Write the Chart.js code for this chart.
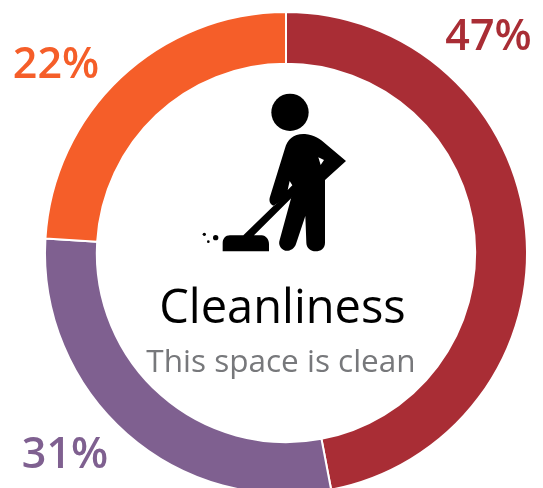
<!DOCTYPE html>
<html><head><meta charset="utf-8">
<style>html,body{margin:0;padding:0;background:#fff;overflow:hidden;width:543px;height:488px}
#w{position:relative;width:543px;height:520px}</style>
<script src="https://cdn.jsdelivr.net/npm/chart.js@4"></script></head>
<body><div id="w"><canvas id="c" width="543" height="520"></canvas></div>
<script>
const categories = ['Cleanliness A','Cleanliness B','Cleanliness C'];
const sliceValues = [47, 28.95, 24.05];
const sliceLabels = ['47%','31%','22%'];
const sliceColors = ['#A92D35','#7F6090','#F55E29'];
const titleText = 'Cleanliness';
const subtitleText = 'This space is clean';

const iconBody = new Path2D('M285 205 C292 178 312 160 345 162 C372 164 392 178 410 194 L468 243 L405 300 L405 488 C405 505 392 514 377 514 C362 514 349 503 349 488 L346 408 L318 492 C312 508 298 514 286 512 C272 508 264 494 269 480 L306 344 L250 377 C240 372 236 362 240 350 Z M293 330 L307 316 L299 303 Z M385 232 L402 240 L392 255 Z');
const iconBroom = new Path2D('M160 466 L248 380 L306 334 L314 344 L192 466 L215 466 C228 467 237 478 237 492 L237 514 L98 514 L98 490 C98 476 106 466 120 466 Z');
const iconHead = [300,97,56];
const iconDust = [[43,463,5],[55,485,4],[77,473,8]];

const overlay = {
  id:'overlay',
  afterDraw(chart){
    const ctx = chart.ctx, a = chart.getDatasetMeta(0).data[0];
    const cx = a.x;
    ctx.save();
    ctx.textAlign='center'; ctx.textBaseline='alphabetic';
    ctx.font='600 43px "Open Sans"';
    const pos=[[488.5,50],[65,468],[56,78]];
    sliceLabels.forEach((t,i)=>{ctx.fillStyle=sliceColors[i];ctx.fillText(t,pos[i][0],pos[i][1]);});
    ctx.fillStyle='#000'; ctx.font='47px "Open Sans"'; ctx.fillText(titleText,cx-3.5,323);
    ctx.fillStyle='#77787B'; ctx.font='31.5px "Open Sans"'; ctx.fillText(subtitleText,cx-5,372);
    ctx.translate(190,80); ctx.scale(1/3,1/3);
    ctx.fillStyle='#000'; ctx.fill(iconBody,'evenodd'); ctx.fill(iconBroom);
    [iconHead,...iconDust].forEach(d=>{ctx.beginPath();ctx.arc(d[0],d[1],d[2],0,Math.PI*2);ctx.fill();});
    ctx.restore();
  }
};
new Chart(document.getElementById('c'),{
  type:'doughnut',
  data:{labels:categories,datasets:[{data:sliceValues,backgroundColor:sliceColors,borderColor:'#fff',borderWidth:2}]},
  options:{responsive:false,animation:false,cutout:'78.5%',
    layout:{padding:{left:44,right:15,top:11,bottom:25}},
    plugins:{legend:{display:false},tooltip:{enabled:false}}},
  plugins:[overlay]
});
</script></body></html>
